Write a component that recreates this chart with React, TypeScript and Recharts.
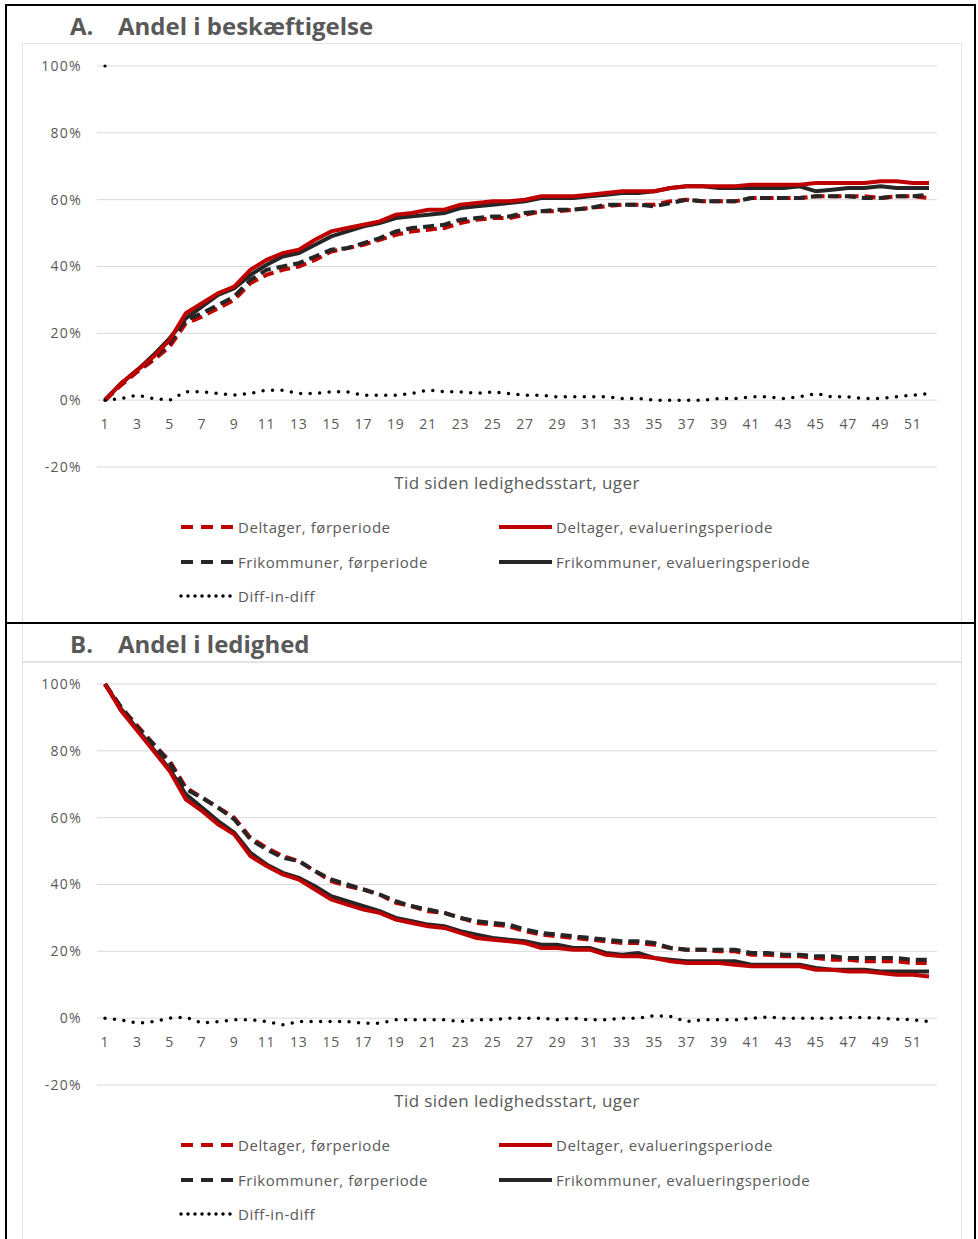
import { LineChart, Line, XAxis, YAxis, CartesianGrid } from "recharts";

const WEEKS = [
  1, 2, 3, 4, 5, 6, 7, 8, 9, 10, 11, 12, 13, 14, 15, 16, 17, 18, 19, 20, 21, 22, 23, 24, 25, 26,
  27, 28, 29, 30, 31, 32, 33, 34, 35, 36, 37, 38, 39, 40, 41, 42, 43, 44, 45, 46, 47, 48, 49, 50,
  51, 52,
];
const Y_TICKS = [-20, 0, 20, 40, 60, 80, 100];

// A. Andel i beskæftigelse
const A_DELT_FOR = [
  0, 4.5, 8.5, 12, 16, 23, 25, 27.5, 30, 35, 37.5, 39, 40, 42, 44.5, 45.5, 46.5, 48, 49.5, 50.5,
  51, 51.5, 53, 54, 54.5, 54.5, 55.5, 56.5, 56.5, 57, 57.5, 58, 58.5, 58.5, 58.5, 59.5, 60, 59.5,
  59.5, 59.5, 60.5, 60.5, 60.5, 60.5, 61, 61, 61, 61, 60.5, 61, 61, 60.5,
];
const A_DELT_EVAL = [
  0, 5, 9, 13, 18, 26, 29, 32, 34, 39, 42, 44, 45, 48, 50.5, 51.5, 52.5, 53.5, 55.5, 56, 57, 57,
  58.5, 59, 59.5, 59.5, 60, 61, 61, 61, 61.5, 62, 62.5, 62.5, 62.5, 63.5, 64, 64, 64, 64, 64.5,
  64.5, 64.5, 64.5, 65, 65, 65, 65, 65.5, 65.5, 65, 65,
];
const A_FRI_FOR = [
  0, 5, 9, 12.5, 17, 24, 26, 28.5, 31, 36, 39, 40, 41, 43, 45, 45.5, 47, 48.5, 50.5, 51.5, 52,
  52.5, 54, 54.5, 55, 55, 56, 56.5, 57, 57, 57.5, 58.5, 58.5, 58.5, 58, 59, 60, 59.5, 59.5, 59.5,
  60.5, 60.5, 60.5, 60.5, 61, 61, 61, 60.5, 60.5, 61, 61, 61.5,
];
const A_FRI_EVAL = [
  0, 5, 9, 13.5, 18.5, 24.5, 28, 31.5, 33.5, 37.5, 40.5, 43, 44, 46.5, 49, 50.5, 52, 53, 54.5, 55,
  55.5, 56, 57.5, 58, 58.5, 59, 59.5, 60.5, 60.5, 60.5, 61, 61.5, 62, 62, 62.5, 63.5, 64, 64, 63.5,
  63.5, 63.5, 63.5, 63.5, 64, 62.5, 63, 63.5, 63.5, 64, 63.5, 63.5, 63.5,
];
const A_DID = [
  0, 0.5, 1.5, 0.5, 0, 2.5, 2.5, 2, 1.5, 2, 3, 3, 2, 2, 2.5, 2.5, 1.5, 1.5, 1.5, 2, 3, 2.5, 2.5, 2,
  2.5, 2, 1.5, 1.5, 1, 1, 1, 1, 0.5, 0.5, 0, 0, 0, 0, 0.5, 0.5, 1, 1, 0.5, 1, 2, 1, 1, 0.5, 0.5, 1,
  1.5, 2,
];
const A_MARK = [100];

// B. Andel i ledighed
const B_DELT_FOR = [
  100, 93, 87.5, 82, 77, 69, 66, 63, 60, 54, 51, 48.5, 47, 44, 41, 39.5, 38.5, 37, 34.5, 33.5, 32,
  31.5, 30, 28.5, 28, 27.5, 26, 25, 24.5, 24, 23.5, 23, 22.5, 22.5, 22, 21, 20.5, 20.5, 20, 20,
  19, 19, 18.5, 18.5, 18, 17.5, 17.5, 17, 17, 17, 16.5, 16.5,
];
const B_DELT_EVAL = [
  100, 92, 86, 80, 74, 65.5, 62, 58, 55, 48.5, 45.5, 43, 41.5, 38.5, 35.5, 34, 32.5, 31.5, 29.5,
  28.5, 27.5, 27, 25.5, 24, 23.5, 23, 22.5, 21, 21, 20.5, 20.5, 19, 18.5, 18.5, 18, 17, 16.5,
  16.5, 16.5, 16, 15.5, 15.5, 15.5, 15.5, 14.5, 14.5, 14, 14, 13.5, 13, 13, 12.5,
];
const B_FRI_FOR = [
  100, 93, 87, 82, 76.5, 68.5, 66, 63, 59.5, 53.5, 50.5, 48, 47, 44, 41.5, 40, 38.5, 37, 35, 33.5,
  32.5, 31.5, 30, 29, 28.5, 28, 26.5, 25.5, 25, 24.5, 24, 23.5, 23, 23, 22.5, 21, 20.5, 20.5,
  20.5, 20.5, 19.5, 19.5, 19, 19, 18.5, 18.5, 18, 18, 18, 18, 17.5, 17.5,
];
const B_FRI_EVAL = [
  100, 92.5, 86.5, 80.5, 74.5, 67, 63, 59, 55.5, 49.5, 46, 43.5, 42, 39.5, 36.5, 35, 33.5, 32, 30,
  29, 28, 27.5, 26, 25, 24, 23.5, 23, 22, 22, 21, 21, 19.5, 19, 19.5, 18, 17.5, 17, 17, 17, 17, 16,
  16, 16, 16, 15, 14.5, 14.5, 14.5, 14, 14, 14, 14,
];
const B_DID = [
  0, -0.5, -1.5, -1, 0, 0.3, -1.5, -1, -0.5, -0.5, -1, -2, -1, -1, -1, -1, -1.5, -1.5, -0.5, -0.5,
  -0.5, -0.5, -1, -0.5, -0.5, 0, 0, 0, -0.5, 0, -0.5, -0.5, 0, 0, 0.8, 0.5, -1, -0.5, -0.5, -0.5,
  0, 0.3, 0, 0, 0, 0, 0.2, 0.2, 0, -0.3, -0.5, -1,
];

const RED = "#c00000";
const DARK = "#262626";
const TEXT = "#595959";
const FONT = "'Open Sans', Lato, sans-serif";
const DASH = "11 6";

const LEGEND_ITEMS = [
  { label: "Deltager, førperiode", color: RED, dash: DASH, col: 0, row: 0 },
  { label: "Deltager, evalueringsperiode", color: RED, dash: undefined, col: 1, row: 0 },
  { label: "Frikommuner, førperiode", color: DARK, dash: DASH, col: 0, row: 1 },
  { label: "Frikommuner, evalueringsperiode", color: DARK, dash: undefined, col: 1, row: 1 },
  { label: "Diff-in-diff", color: "#000", dash: "0 7", col: 0, row: 2 },
];

function buildRows(series: Record<string, number[]>) {
  return WEEKS.map((week, i) => {
    const row: Record<string, number | null> = { week };
    Object.keys(series).forEach((k) => {
      const v = series[k][i];
      row[k] = v === undefined ? null : v;
    });
    return row;
  });
}

function WeekTick(props: any) {
  const { x, y, payload } = props;
  if (payload.value % 2 === 0) return <g />;
  // category axis crosses at 0%, so labels sit just under the 0-line
  return (
    <text
      x={x}
      y={y - 51}
      dy="0.35em"
      textAnchor="middle"
      fill={TEXT}
      fontSize={14}
      fontFamily={FONT}
      letterSpacing={0.8}
    >
      {payload.value}
    </text>
  );
}

function LegendBlock({ top }: { top: number }) {
  return (
    <div style={{ position: "absolute", left: 0, top, width: 978, height: 110 }}>
      {LEGEND_ITEMS.map((it) => (
        <div
          key={it.label}
          style={{
            position: "absolute",
            left: it.col === 0 ? 179 : 497,
            top: it.row * 34.5 - 10,
            height: 20,
            display: "flex",
            alignItems: "center",
            fontFamily: FONT,
            fontSize: 15,
            letterSpacing: 0.55,
            color: TEXT,
            whiteSpace: "nowrap",
          }}
        >
          <svg width={59} height={20}>
            <line
              x1={2}
              x2={55}
              y1={10}
              y2={10}
              stroke={it.color}
              strokeWidth={it.dash === "0 7" ? 3.5 : 4}
              strokeDasharray={it.dash === DASH ? "12 8" : it.dash}
              strokeLinecap={it.dash === "0 7" ? "round" : "butt"}
            />
          </svg>
          <span>{it.label}</span>
        </div>
      ))}
    </div>
  );
}

function Panel({
  letter,
  title,
  top,
  rows,
  withMark,
}: {
  letter: string;
  title: string;
  top: number;
  rows: Record<string, number | null>[];
  withMark?: boolean;
}) {
  return (
    <div style={{ position: "absolute", left: 0, top, width: 978, height: 618 }}>
      <div
        style={{
          position: "absolute",
          left: 22,
          top: 43,
          width: 940,
          height: 620,
          border: "1px solid #e3e3e3",
          boxSizing: "border-box",
        }}
      />
      <div
        style={{
          position: "absolute",
          left: 70,
          top: 10,
          fontFamily: FONT,
          fontWeight: 700,
          fontSize: 24,
          lineHeight: "32px",
          color: TEXT,
          whiteSpace: "nowrap",
        }}
      >
        <span>{letter}</span>
        <span style={{ position: "absolute", left: 48 }}>{title}</span>
      </div>
      <div style={{ position: "absolute", left: 0, top: 50 }}>
        <LineChart
          width={978}
          height={570}
          data={rows}
          margin={{ top: 16, right: 41, left: 37, bottom: 123 }}
        >
          <CartesianGrid vertical={false} stroke="#d9d9d9" />
          <XAxis
            dataKey="week"
            interval={0}
            axisLine={false}
            tickLine={false}
            height={30}
            padding={{ left: 8, right: 8 }}
            tick={<WeekTick />}
            label={{
              value: "Tid siden ledighedsstart, uger",
              position: "insideTop",
              offset: 10,
              fill: TEXT,
              fontSize: 17,
              letterSpacing: 0.4,
              fontFamily: FONT,
            }}
          />
          <YAxis
            width={60}
            domain={[-20, 100]}
            ticks={Y_TICKS}
            axisLine={false}
            tickLine={false}
            tickMargin={9}
            tickFormatter={(v) => `${v}%`}
            tick={{ fill: TEXT, fontSize: 14, fontFamily: FONT, letterSpacing: 1.3 }}
          />
          <Line
            dataKey="deltFor"
            stroke={RED}
            strokeWidth={4}
            strokeDasharray={DASH}
            dot={false}
            isAnimationActive={false}
          />
          <Line
            dataKey="friFor"
            stroke={DARK}
            strokeWidth={4}
            strokeDasharray={DASH}
            dot={false}
            isAnimationActive={false}
          />
          <Line
            dataKey="friEval"
            stroke={DARK}
            strokeWidth={4}
            dot={false}
            isAnimationActive={false}
          />
          <Line
            dataKey="deltEval"
            stroke={RED}
            strokeWidth={4}
            dot={false}
            isAnimationActive={false}
          />
          <Line
            dataKey="did"
            stroke="#000"
            strokeWidth={3.5}
            strokeDasharray="0 9.5"
            strokeLinecap="round"
            dot={false}
            isAnimationActive={false}
          />
          {withMark && (
            <Line
              dataKey="mark"
              stroke="none"
              dot={{ r: 1.6, fill: "#000", stroke: "none" }}
              isAnimationActive={false}
            />
          )}
        </LineChart>
      </div>
      <LegendBlock top={527} />
    </div>
  );
}

const ROWS_A = buildRows({
  deltFor: A_DELT_FOR,
  deltEval: A_DELT_EVAL,
  friFor: A_FRI_FOR,
  friEval: A_FRI_EVAL,
  did: A_DID,
  mark: A_MARK,
});

const ROWS_B = buildRows({
  deltFor: B_DELT_FOR,
  deltEval: B_DELT_EVAL,
  friFor: B_FRI_FOR,
  friEval: B_FRI_EVAL,
  did: B_DID,
});

export default function App() {
  return (
    <div
      style={{
        position: "absolute",
        left: 0,
        top: 0,
        width: 978,
        height: 1239,
        overflow: "hidden",
        background: "#fff",
      }}
    >
      <Panel letter="A." title="Andel i beskæftigelse" top={0} rows={ROWS_A} withMark />
      <Panel letter="B." title="Andel i ledighed" top={618} rows={ROWS_B} />
      {/* frames around the two panels */}
      <div
        style={{
          position: "absolute",
          left: 5,
          top: 4,
          width: 971,
          height: 620,
          border: "2px solid #000",
          boxSizing: "border-box",
        }}
      />
      <div
        style={{
          position: "absolute",
          left: 5,
          top: 622,
          width: 971,
          height: 700,
          border: "2px solid #000",
          boxSizing: "border-box",
        }}
      />
    </div>
  );
}
